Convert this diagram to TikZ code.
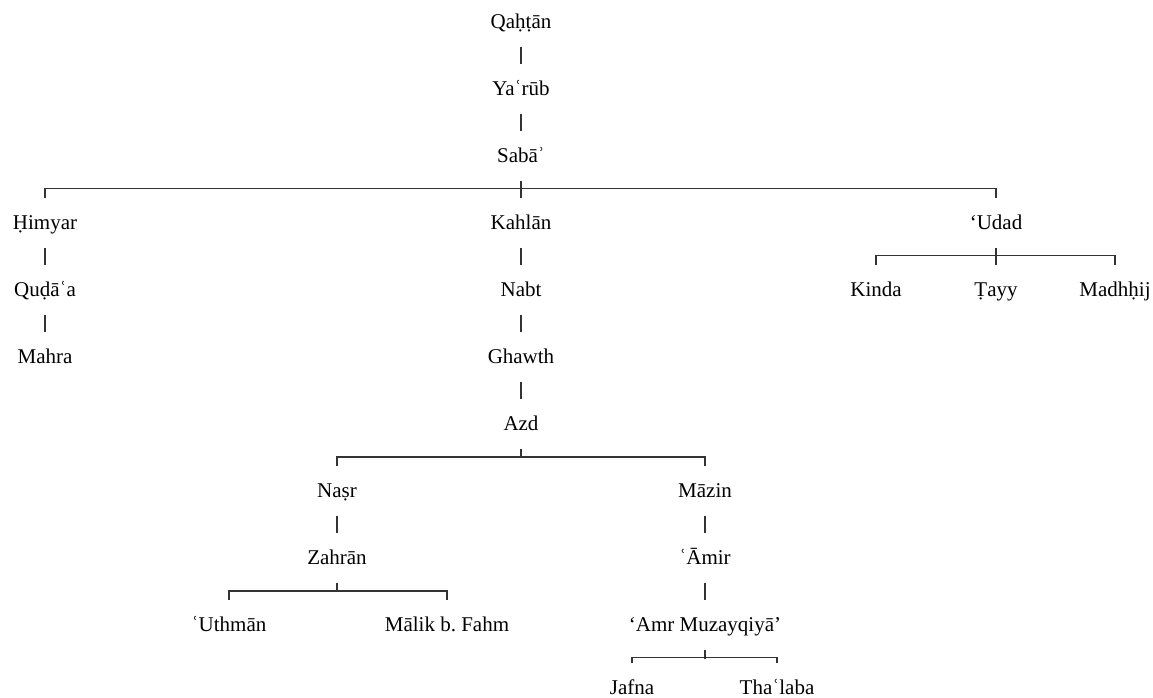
\documentclass[tikz,border=0pt]{standalone}
\usepackage{fontspec}
\setmainfont{Liberation Serif}
\tikzset{gen/.style = {inner sep = 0, minimum height = 36pt, text height = 12pt, text depth = 2pt, font = \fontsize{15.75}{18}\selectfont}}

\begin{document}
\begin{tikzpicture}[x = 0.75pt, y = 0.75pt, line width = 0.8pt, draw = black!80]
    \useasboundingbox (0, 0) rectangle (1153, -698);
    \node [gen] (qahtan) at (521, -22) {Qaḥṭān};
    \node [gen] (yarub) at (521, -89) {Yaʿrūb};
    \node [gen] (saba) at (521, -156) {Sabāʾ};
    \node [gen] (himyar) at (45, -223) {Ḥimyar};
    \node [gen] (kahlan) at (521, -223) {Kahlān};
    \node [gen] (udad) at (996, -223) {‘Udad};
    \node [gen] (qudaa) at (45, -290) {Quḍāʿa};
    \node [gen] (mahra) at (45, -357) {Mahra};
    \node [gen] (nabt) at (521, -290) {Nabt};
    \node [gen] (ghawth) at (521, -357) {Ghawth};
    \node [gen] (azd) at (521, -424) {Azd};
    \node [gen] (kinda) at (876, -290) {Kinda};
    \node [gen] (tayy) at (996, -290) {Ṭayy};
    \node [gen] (madhhij) at (1115, -290) {Madhḥij};
    \node [gen] (nasr) at (337, -491) {Naṣr};
    \node [gen] (mazin) at (705, -491) {Māzin};
    \node [gen] (zahran) at (337, -558) {Zahrān};
    \node [gen] (amir) at (705, -558) {ʿĀmir};
    \node [gen] (uthman) at (229, -625) {ʿUthmān};
    \node [gen] (malik) at (447, -625) {Mālik b.\ Fahm};
    \node [gen] (amr) at (705, -625) {‘Amr Muzayqiyā’};
    \node [gen] (jafna) at (632, -688) {Jafna};
    \node [gen] (thalaba) at (777, -688) {Thaʿlaba};
    \draw (qahtan) -- (yarub);
    \draw (yarub) -- (saba);
    \draw (saba) -- (kahlan);
    \draw (himyar.north) -- ++(0, 9.5) -| (udad.north);
    \draw (himyar) -- (qudaa);
    \draw (qudaa) -- (mahra);
    \draw (kahlan) -- (nabt);
    \draw (nabt) -- (ghawth);
    \draw (ghawth) -- (azd);
    \draw (udad) -- (tayy);
    \draw (kinda.north) -- ++(0, 9.5) -| (madhhij.north);
    \draw (azd.south) -- ++(0, -9.5);
    \draw (nasr.north) -- ++(0, 9.5) -| (mazin.north);
    \draw (nasr) -- (zahran);
    \draw (mazin) -- (amir);
    \draw (amir) -- (amr);
    \draw (zahran.south) -- ++(0, -9.5);
    \draw (uthman.north) -- ++(0, 9.5) -| (malik.north);
    \draw (amr.south) -- ++(0, -9);
    \draw (jafna.north) -- ++(0, 6) -| (thalaba.north);
  \end{tikzpicture}
\end{document}
